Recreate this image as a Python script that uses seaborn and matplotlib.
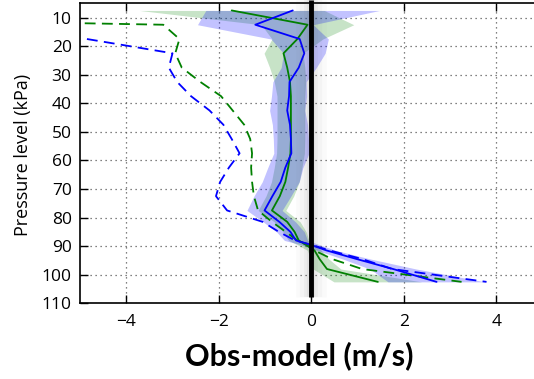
import numpy as np
import pandas as pd
import matplotlib
matplotlib.use("Agg")
import matplotlib.pyplot as plt
import seaborn as sns

# Pressure levels (kPa) shared by the two mean-bias profiles
levels = [7.5, 12.5, 17.5, 22.5, 27.5, 32.5, 37.5, 42.5, 47.5, 52.5, 57.5,
          62.5, 67.5, 72.5, 77.5, 81.5, 85, 88, 89.5, 91.5, 94.5, 98, 102.5]

# Mean obs-minus-model wind (m/s), blue experiment
blue_mean = [-0.40, -1.21, -0.25, -0.15, -0.27, -0.47, -0.48, -0.52, -0.46, -0.44,
             -0.43, -0.56, -0.66, -0.84, -1.01, -0.69, -0.45, -0.33, -0.02, 0.33,
             0.98, 1.77, 2.71]
# Half-width of the blue uncertainty band
blue_spread = [1.88, 1.25, 0.62, 0.45, 0.38, 0.36, 0.38, 0.38, 0.38, 0.38,
               0.38, 0.38, 0.40, 0.40, 0.38, 0.35, 0.30, 0.25, 0.20, 0.20,
               0.30, 0.50, 1.05]

# Mean obs-minus-model wind (m/s), green experiment
green_mean = [-1.72, -0.08, -0.30, -0.60, -0.52, -0.46, -0.44, -0.44, -0.44, -0.44,
              -0.45, -0.50, -0.56, -0.68, -0.85, -0.52, -0.36, -0.27, -0.12, 0.07,
              0.18, 0.34, 1.44]
green_spread = [2.00, 1.00, 0.55, 0.42, 0.38, 0.34, 0.30, 0.30, 0.30, 0.30,
                0.30, 0.30, 0.30, 0.30, 0.30, 0.28, 0.25, 0.22, 0.18, 0.15,
                0.20, 0.30, 0.95]

# Dashed reference profiles
green_dash_levels = [7.5, 12.5, 17.5, 22.5, 27.5, 32.5, 37.5, 42.5, 47.5, 52.5,
                     57.5, 62.5, 67.5, 72.5, 77.5, 81.5, 85, 88, 89.5, 91.5,
                     94.5, 98, 102.5]
green_dash = [-20.0, -3.20, -2.85, -2.94, -2.80, -2.40, -1.95, -1.70, -1.45, -1.32,
              -1.28, -1.30, -1.28, -1.24, -1.15, -0.85, -0.55, -0.30, -0.10, 0.07,
              0.45, 1.10, 3.25]

blue_dash_levels = [17.5, 22.5, 27.5, 32.5, 37.5, 42.5, 47.5, 52.5, 57.5, 62.5,
                    67.5, 72.5, 77.5, 81.5, 85, 88, 89.5, 91.5, 94.5, 98, 102.5]
blue_dash = [-4.85, -3.00, -3.08, -2.90, -2.60, -2.20, -1.90, -1.72, -1.55, -1.78,
             -1.97, -2.06, -1.82, -1.05, -0.70, -0.35, 0.00, 0.40, 1.10, 1.75, 3.79]

x_ticks = [-4, -2, 0, 2, 4]
y_ticks = [10, 20, 30, 40, 50, 60, 70, 80, 90, 100, 110]

BLUE = (0.0, 0.0, 1.0)
GREEN = (0.0, 0.5, 0.0)

sns.set_theme(style="ticks")
plt.rcParams["font.family"] = ["Open Sans", "DejaVu Sans"]
plt.rcParams["text.color"] = "black"

fig = plt.figure(figsize=(5.34, 3.79), dpi=100)
ax = fig.add_axes([80 / 534, (379 - 303.3) / 379, (542.5 - 80) / 534, 300 / 379])

prof = pd.DataFrame({"p": levels, "blue": blue_mean, "green": green_mean,
                     "bs": blue_spread, "gs": green_spread})

# uncertainty envelopes (blue laid over green)
ax.fill_betweenx(prof["p"], prof["green"] - prof["gs"], prof["green"] + prof["gs"],
                 color=GREEN, alpha=0.22, linewidth=0, zorder=2)
ax.fill_betweenx(prof["p"], prof["blue"] - prof["bs"], prof["blue"] + prof["bs"],
                 color=BLUE, alpha=0.24, linewidth=0, zorder=2)

# dashed profiles
gd = pd.DataFrame({"p": green_dash_levels, "v": green_dash})
bd = pd.DataFrame({"p": blue_dash_levels, "v": blue_dash})
sns.lineplot(data=gd, x="v", y="p", orient="y", sort=False, estimator=None,
             color=GREEN, linewidth=1.3, dashes=False, ax=ax, zorder=3)
sns.lineplot(data=bd, x="v", y="p", orient="y", sort=False, estimator=None,
             color=BLUE, linewidth=1.3, dashes=False, ax=ax, zorder=3)
for ln in ax.lines[-2:]:
    ln.set_dashes((6, 3.5))

# mean profiles
sns.lineplot(data=prof, x="green", y="p", orient="y", sort=False, estimator=None,
             color=GREEN, linewidth=1.3, ax=ax, zorder=4)
sns.lineplot(data=prof, x="blue", y="p", orient="y", sort=False, estimator=None,
             color=BLUE, linewidth=1.3, ax=ax, zorder=4)

# zero line with a soft shadow
for w, a in [(22, 0.025), (16, 0.03), (10, 0.045), (6, 0.06)]:
    ax.plot([0, 0], [4.0, 107.8], color="0.3", linewidth=w, alpha=a,
            solid_capstyle="butt", clip_on=False, zorder=5)
ax.plot([0, 0], [4.0, 107.8], color="black", linewidth=3.5,
        solid_capstyle="butt", clip_on=False, zorder=6)

ax.set_xlim(-5, 5)
ax.set_ylim(110, 5)
ax.set_xticks(x_ticks)
ax.set_xticklabels([f"{t}".replace("-", "\u2212") for t in x_ticks])
ax.set_yticks(y_ticks)
ax.grid(True, linestyle=(0, (1, 3)), color="0.35", linewidth=0.9)
ax.set_axisbelow(True)
ax.tick_params(direction="in", length=6, width=1, top=True, right=True,
               labelsize=12.5, colors="black", labelcolor="black", pad=6)
ax.tick_params(axis="x", pad=8)
for s in ax.spines.values():
    s.set_color("black")
    s.set_linewidth(1.2)
ax.set_xlabel("")
ax.set_ylabel("")

fig.text(23 / 534, 1 - 155 / 379, "Pressure level (kPa)", rotation=90,
         ha="center", va="center", fontsize=13, color="black",
         family=["Open Sans", "DejaVu Sans"])
fig.text(299 / 534, 1 - 356 / 379, "Obs-model (m/s)", ha="center", va="center",
         fontsize=22, fontweight="bold", color="black",
         family=["Lato", "DejaVu Sans"])

fig.savefig("out.png", dpi=100)
